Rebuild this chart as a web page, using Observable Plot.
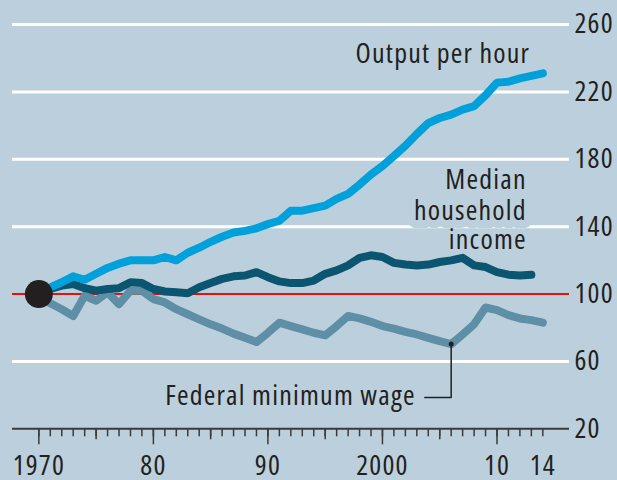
<!DOCTYPE html>
<html><head><meta charset="utf-8">
<script src="https://cdn.jsdelivr.net/npm/d3@7"></script>
<script src="https://cdn.jsdelivr.net/npm/@observablehq/plot@0.6"></script>
<style>
html,body{margin:0;padding:0;background:#bbd0dc;}
#chart svg{display:block;background:linear-gradient(to right,#d0e0e8 0,#d0e0e8 12px,#bbd0dc 12px);}
</style></head><body><div id="chart"></div>
<script>
const years = [1970,1971,1972,1973,1974,1975,1976,1977,1978,1979,1980,1981,1982,1983,1984,1985,1986,1987,1988,1989,1990,1991,1992,1993,1994,1995,1996,1997,1998,1999,2000,2001,2002,2003,2004,2005,2006,2007,2008,2009,2010,2011,2012,2013,2014];
const outputPerHour = [100,104,107,110.5,108.5,112,115.5,118,120,120,120,122,120,124.5,127.5,131,134,136.5,137.5,139,141.5,143.5,149.5,149.5,151,152.5,156.5,159.5,165,171,176,182,188,195,201.5,204.5,206.5,209.5,211.5,218,225.5,226,228,229.5,231];
const medianIncome = [100,103,105,106,103.5,102,103,103.5,107,106.5,103,101.5,101,100.5,104,106.5,109,110.5,111,113,110,107.5,106.5,106.5,108,112,114,117,121.5,123,122,118.5,117.5,117,117.5,119,120,121.5,117,116,113,111.5,111,111.5];
const minWage = [100,94.5,91,87,99,96,101,94,102,102,97,95,91,88,85,82,79.5,76.5,74,71.5,77,83,81,79,77,75.5,81,87,85.5,83.5,81,79.5,77.5,76,74,72,70.3,76,82,92,90.5,87.5,85.5,84.5,83];
const yTicks = [20,60,100,140,180,220,260];
const gridValues = [60,140,180,220,260];
const labelYears = [1970,1980,1990,2000,2010,2014];
const labelText = ["1970","80","90","2000","10","14"];
const decadeYears = [1970,1980,1990,2000,2010];
const fiveYears = [1975,1985,1995,2005];
const medianLines = ["Median","household","income"];

const colors = {output:"#00a0db", median:"#0c5571", wage:"#5f8fa6", text:"#231f20", bg:"#bbd0dc"};

// detect whether a condensed width of Open Sans is available
const svgNS = "http://www.w3.org/2000/svg";
function measure(stretch) {
  const s = document.createElementNS(svgNS, "svg");
  const t = document.createElementNS(svgNS, "text");
  t.setAttribute("font-family", "Open Sans");
  t.setAttribute("font-size", "100");
  t.style.fontStretch = stretch;
  t.textContent = "1970 Output per hour";
  s.appendChild(t); document.body.appendChild(s);
  const w = t.getComputedTextLength(); s.remove(); return w;
}
const condensedOK = measure("75%") < 0.9 * measure("100%");
const font = condensedOK ? "'Open Sans',sans-serif" : "Roboto,sans-serif";

const rows = (vals) => vals.map((v,i)=>({year: years[i], value: v}));

const chart = Plot.plot({
  width: 617, height: 480,
  marginLeft: 12, marginRight: 48, marginTop: 24, marginBottom: 51.7,
  style: {fontFamily: font, fontSize: "28px", color: colors.text, background: "transparent"},
  x: {domain: [1967.7, 2016.33], axis: null},
  y: {domain: [20, 260], axis: null},
  marks: [
    Plot.ruleY(gridValues, {stroke: "white", strokeWidth: 3}),
    Plot.ruleY([100], {stroke: "#e3120b", strokeWidth: 2}),
    Plot.ruleY([20], {stroke: "#3a3a3a", strokeWidth: 2}),
    Plot.axisX({ticks: years, tickSize: 8, tickFormat: () => "", label: null, stroke: "#3a3a3a", strokeWidth: 1.5}),
    Plot.axisX({ticks: fiveYears, tickSize: 11, tickFormat: () => "", label: null, stroke: "#3a3a3a", strokeWidth: 1.5}),
    Plot.axisX({ticks: decadeYears, tickSize: 16, tickFormat: () => "", label: null, stroke: "#3a3a3a", strokeWidth: 1.5}),
    Plot.axisX({ticks: labelYears, tickSize: 0, tickPadding: 26, fontSize: 28, label: null,
      tickFormat: (d) => labelText[labelYears.indexOf(d)], fill: colors.text}),
    Plot.axisY({anchor: "right", ticks: yTicks, tickSize: 0, tickPadding: 5, fontSize: 28, label: null, fill: colors.text}),
    Plot.text([medianLines[1]], {x: 2012.6, y: 149.4, text: d => d, textAnchor: "end", lineAnchor: "middle",
      fill: colors.text, stroke: colors.bg, strokeWidth: 16, fontSize: 28}),
    Plot.text([medianLines[0]], {x: 2012.6, y: 149.4, dy: -31, text: d => d, textAnchor: "end", lineAnchor: "middle", fill: colors.text, fontSize: 28}),
    Plot.text([medianLines[2]], {x: 2012.6, y: 149.4, dy: 29, text: d => d, textAnchor: "end", lineAnchor: "middle", fill: colors.text, fontSize: 28}),
    Plot.line(rows(minWage), {x: "year", y: "value", stroke: colors.wage, strokeWidth: 8, strokeLinejoin: "round"}),
    Plot.line(rows(medianIncome), {x: "year", y: "value", stroke: colors.median, strokeWidth: 8, strokeLinejoin: "round"}),
    Plot.line(rows(outputPerHour), {x: "year", y: "value", stroke: colors.output, strokeWidth: 8, strokeLinejoin: "round"}),
    Plot.dot([{year: years[0], value: outputPerHour[0]}], {x: "year", y: "value", r: 14, fill: colors.text}),
    Plot.line([[2006, minWage[36]], [2006, 38.6], [2003.7, 38.6]], {stroke: colors.text, strokeWidth: 1.5}),
    Plot.dot([[2006, minWage[36]]], {r: 2.5, fill: colors.text}),
    Plot.text(["Output per hour"], {x: 2012.9, y: 242.3, text: d => d, textAnchor: "end", lineAnchor: "middle", fill: colors.text, fontSize: 28}),
    Plot.text(["Federal minimum wage"], {x: 2002.9, y: 39.3, text: d => d, textAnchor: "end", lineAnchor: "middle", fill: colors.text, fontSize: 28})
  ]
});
if (condensedOK) {
  chart.style.fontStretch = "75%";
  chart.querySelectorAll("text").forEach(t => { t.style.fontStretch = "75%"; t.style.letterSpacing = "1.2px"; });
} else {
  chart.querySelectorAll("text").forEach(t => {
    const tr = t.getAttribute("transform") || "";
    t.setAttribute("transform", tr + " scale(0.85,1)");
  });
}
document.getElementById("chart").appendChild(chart);
</script></body></html>
